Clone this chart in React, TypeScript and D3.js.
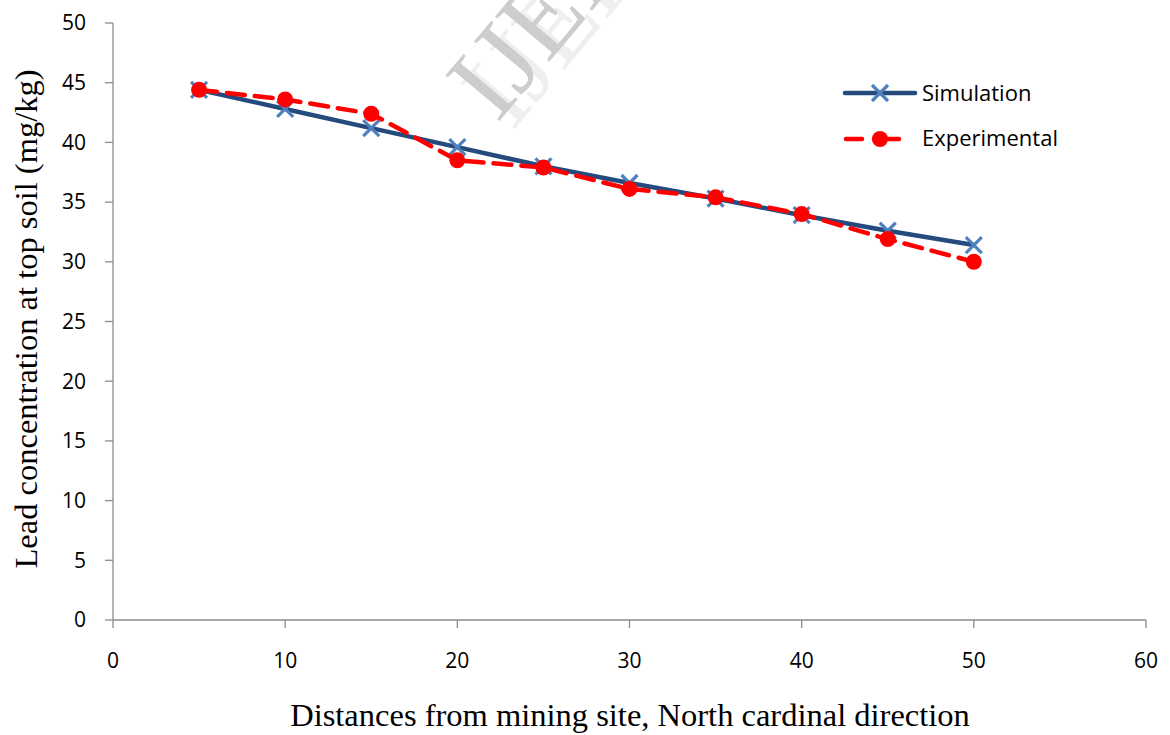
import React from "react";
import * as d3 from "d3";

const distances = [5, 10, 15, 20, 25, 30, 35, 40, 45, 50];
const simulation = [44.4, 42.8, 41.2, 39.6, 38.0, 36.6, 35.3, 33.9, 32.6, 31.4];
const experimental = [44.4, 43.6, 42.4, 38.5, 37.9, 36.1, 35.4, 34.0, 31.9, 30.0];
const xTicks = [0, 10, 20, 30, 40, 50, 60];
const yTicks = [0, 5, 10, 15, 20, 25, 30, 35, 40, 45, 50];

const W = 1170;
const H = 735;
const left = 113;
const right = 1146;
const top = 23;
const bottom = 620;

const tickFont = "'Open Sans', 'Liberation Sans', sans-serif";
const titleFont = "'Liberation Serif', 'Times New Roman', serif";

export default function App() {
  const x = d3.scaleLinear().domain([0, 60]).range([left, right]);
  const y = d3.scaleLinear().domain([0, 50]).range([bottom, top]);

  const line = d3
    .line<number>()
    .x((_, i) => x(distances[i]))
    .y((d) => y(d));

  const simColor = "#254A7E";
  const simMarker = "#4F81BD";
  const expColor = "#FF0000";
  const axisColor = "#8C8C8C";

  const cross = (cx: number, cy: number, s: number, key: string) => (
    <g key={key} stroke={simMarker} strokeWidth={3.2}>
      <line x1={cx - s} y1={cy - s} x2={cx + s} y2={cy + s} />
      <line x1={cx - s} y1={cy + s} x2={cx + s} y2={cy - s} />
    </g>
  );

  return (
    <svg
      width={W}
      height={H}
      style={{ position: "absolute", left: 0, top: 0, background: "#fff" }}
    >
      {/* faint watermark */}
      <g fontFamily={titleFont} fontSize={108}>
        <text x={512} y={132} transform="rotate(-50 512 132)" fill="#efefef">
          IJERT
        </text>
        <text x={497} y={124} transform="rotate(-50 497 124)" fill="#cdcdcd">
          IJERT
        </text>
      </g>

      {/* axes */}
      <line x1={left} y1={top} x2={left} y2={bottom} stroke={axisColor} strokeWidth={1.3} />
      <line x1={left} y1={bottom} x2={right} y2={bottom} stroke={axisColor} strokeWidth={1.3} />
      {yTicks.map((t) => (
        <g key={"y" + t}>
          <line x1={left - 8} y1={y(t)} x2={left} y2={y(t)} stroke={axisColor} strokeWidth={1.3} />
          <text
            x={86}
            y={y(t)}
            dy="0.35em"
            textAnchor="end"
            fontFamily={tickFont}
            fontSize={21}
            fill="#000"
          >
            {t}
          </text>
        </g>
      ))}
      {xTicks.map((t) => (
        <g key={"x" + t}>
          <line x1={x(t)} y1={bottom} x2={x(t)} y2={bottom + 8} stroke={axisColor} strokeWidth={1.3} />
          <text
            x={x(t)}
            y={661}
            dy="0.35em"
            textAnchor="middle"
            fontFamily={tickFont}
            fontSize={21}
            fill="#000"
          >
            {t}
          </text>
        </g>
      ))}

      {/* axis titles */}
      <text
        x={630}
        y={726}
        textAnchor="middle"
        fontFamily={titleFont}
        fontSize={32.5}
        fill="#000"
      >
        Distances from mining site, North cardinal direction
      </text>
      <text
        transform={`translate(37 ${319}) rotate(-90)`}
        textAnchor="middle"
        fontFamily={titleFont}
        fontSize={32.5}
        fill="#000"
      >
        Lead concentration at top soil (mg/kg)
      </text>

      {/* simulation series */}
      <path d={line(simulation) || ""} fill="none" stroke={simColor} strokeWidth={4.5} strokeLinejoin="round" />
      {simulation.map((v, i) => cross(x(distances[i]), y(v), 8, "s" + i))}

      {/* experimental series */}
      <path
        d={line(experimental) || ""}
        fill="none"
        stroke={expColor}
        strokeWidth={4.5}
        strokeDasharray="18 10"
        strokeLinecap="round"
      />
      {experimental.map((v, i) => (
        <circle key={"e" + i} cx={x(distances[i])} cy={y(v)} r={8} fill={expColor} />
      ))}

      {/* legend */}
      <g>
        <line x1={845} y1={93} x2={915} y2={93} stroke={simColor} strokeWidth={4.5} strokeLinecap="round" />
        {cross(880, 93, 8, "leg-s")}
        <text x={922} y={93} dy="0.35em" fontFamily={tickFont} fontSize={22} fill="#000">
          Simulation
        </text>
        <line x1={846} y1={139} x2={862} y2={139} stroke={expColor} strokeWidth={4.5} strokeLinecap="round" />
        <line x1={874} y1={139} x2={899} y2={139} stroke={expColor} strokeWidth={4.5} strokeLinecap="round" />
        <circle cx={880} cy={139} r={8} fill={expColor} />
        <text x={922} y={138} dy="0.35em" fontFamily={tickFont} fontSize={22} fill="#000">
          Experimental
        </text>
      </g>
    </svg>
  );
}
